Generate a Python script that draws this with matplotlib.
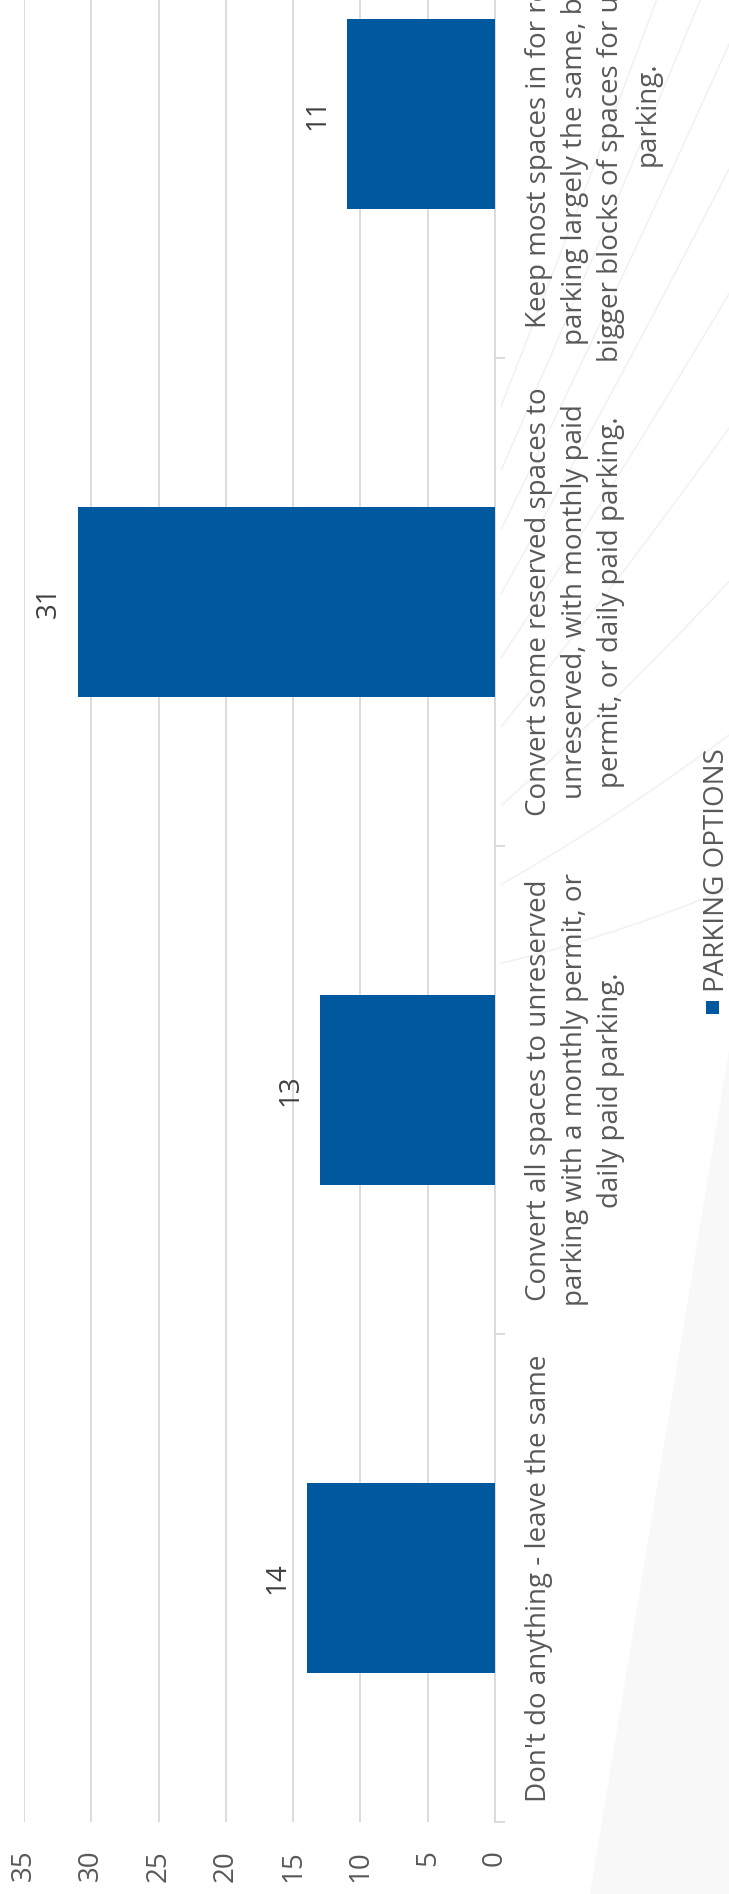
import numpy as np
import matplotlib.pyplot as plt
from matplotlib.patches import Rectangle, Polygon

# survey counts per parking option (bottom to top)
categories = [
    "Don't do anything - leave the same",
    "Convert all spaces to unreserved\nparking with a monthly permit, or\ndaily paid parking.",
    "Convert some reserved spaces to\nunreserved, with monthly paid\npermit, or daily paid parking.",
    "Keep most spaces in for reserved\nparking largely the same, but create\nbigger blocks of spaces for unreserved\nparking.",
]
counts = [14, 13, 31, 11]
value_ticks = [0, 5, 10, 15, 20, 25, 30, 35]
series_name = "PARKING OPTIONS"

BLUE = "#00589F"
GRID = "#D9D9D9"
TEXT = "#595959"
W, H = 729, 1894

FONT = ["Open Sans", "DejaVu Sans"]

fig = plt.figure(figsize=(W / 100, H / 100), dpi=100)
fig.patch.set_facecolor("white")

# faint decorative background (pixel coordinates)
bg = fig.add_axes([0, 0, 1, 1], zorder=-10)
bg.set_xlim(0, W)
bg.set_ylim(H, 0)
bg.axis("off")
bg.add_patch(Polygon([[590, 1894], [729, 1050], [729, 1894]], closed=True,
                     facecolor="#f8f8f8", edgecolor="none"))
ox, oy = 260, 1000
for ye in [-250, -120, 0, 130, 260, 400, 560, 720, 880]:
    t = np.linspace(0, 1, 80)
    xs = ox + (W + 20 - ox) * t
    ys = oy + (ye - oy) * t + 90 * t * (1 - t)
    keep = xs > 500
    bg.plot(xs[keep], ys[keep], color="#f1f1f1", lw=1.1)

# main chart, laid on its side
ax = fig.add_axes([24 / W, (H - 1822) / H, 471 / W, 1952 / H])
ax.patch.set_alpha(0)
pos = np.arange(len(counts))
ax.barh(pos, counts, height=0.39, color=BLUE, zorder=3)
ax.set_xlim(35, 0)
ax.set_ylim(-0.5, 3.5)

ax.set_xticks(value_ticks)
ax.set_xticklabels([str(v) for v in value_ticks], rotation=90,
                   fontsize=20, color=TEXT, family=FONT)
ax.tick_params(axis="x", length=0, pad=20)
ax.grid(axis="x", color=GRID, lw=1.3, zorder=0)
ax.set_axisbelow(True)

ax.yaxis.tick_right()
ax.set_yticks(np.arange(-0.5, 4.0, 1.0))
ax.set_yticklabels([])
ax.tick_params(axis="y", length=7.5, width=1.3, color=GRID)
for side in ["top", "bottom", "left"]:
    ax.spines[side].set_visible(False)
ax.spines["right"].set_color(GRID)
ax.spines["right"].set_linewidth(1.3)

for i, v in enumerate(counts):
    ax.annotate(str(v), xy=(v, i), xytext=(-16, 0), textcoords="offset points",
                rotation=90, rotation_mode="anchor", ha="center", va="baseline",
                fontsize=20, color="#404040", family=FONT)

for i, lab in enumerate(categories):
    ax.text(1.063, i, lab, transform=ax.get_yaxis_transform(), rotation=90,
            rotation_mode="anchor", ha="center", va="top", multialignment="center",
            linespacing=1.4, fontsize=20, color=TEXT, family=FONT)

# legend entry
fig.patches.append(Rectangle((706 / W, (H - 1014) / H), 13 / W, 13 / H,
                             transform=fig.transFigure, facecolor=BLUE,
                             edgecolor="none"))
fig.text(703 / W, (H - 992) / H, series_name, rotation=90, rotation_mode="anchor",
         ha="left", va="top", fontsize=20, color=TEXT, family=FONT)

fig.savefig("out.png", dpi=100)
